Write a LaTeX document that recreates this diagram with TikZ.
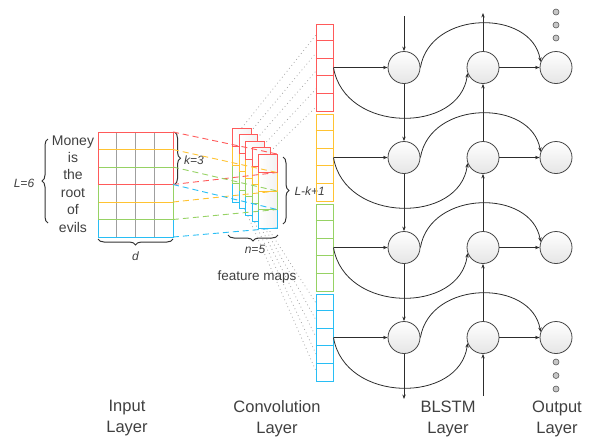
\documentclass[tikz,border=0pt]{standalone}
\usepackage{fontspec}
\setmainfont{Liberation Sans}
\usetikzlibrary{arrows.meta,decorations.pathreplacing,calc}
\definecolor{cred}{RGB}{255,90,90}
\definecolor{corange}{RGB}{255,195,50}
\definecolor{cgreen}{RGB}{150,210,100}
\definecolor{cblue}{RGB}{40,190,245}
\definecolor{txt}{RGB}{64,64,64}
\definecolor{ln}{RGB}{45,45,45}
\begin{document}
\begin{tikzpicture}[x=1pt,y=-1pt,
  arr/.style={draw=ln, line width=0.8pt, -{Stealth[length=4.5pt,width=3.4pt]}},
  unit/.style={circle, minimum size=32pt, inner sep=0pt, draw=gray!55!black, line width=0.8pt, top color=white, bottom color=gray!20},
  dotc/.style={circle, minimum size=6pt, inner sep=0pt, draw=gray!70!black, fill=gray!45, line width=0.6pt},
  gridc/.style={draw=gray!75, line width=0.6pt},
  win/.style={line width=1pt},
  cgroup/.style={rectangle, minimum width=17pt, minimum height=87pt, inner sep=0pt, line width=1pt},
  fmap/.style={rectangle, anchor=north west, minimum width=18.5pt, minimum height=74pt, inner sep=0pt, left color=white, right color=gray!10},
  dsh/.style={line width=0.9pt, dash pattern=on 6pt off 4pt},
  dtt/.style={draw=gray!70, line width=0.8pt, dash pattern=on 0.8pt off 3pt},
  brc/.style={decorate, decoration={brace, amplitude=6pt}, line width=1pt, draw=black!80},
  word/.style={text=txt, font=\fontsize{14}{16}\selectfont, anchor=base},
  lab/.style={text=txt, font=\fontsize{12}{14}\selectfont\itshape},
  layer/.style={text=txt, font=\fontsize{16.5}{21}\selectfont, align=center}
]
\useasboundingbox (0,0) rectangle (596,437);

% ---------- input layer ----------
\foreach \i in {0,...,6} \draw[gridc] (98,132+17.5*\i) -- (173,132+17.5*\i);
\foreach \j in {0,...,4} \draw[gridc] (98+18.75*\j,132) -- (98+18.75*\j,237);
\draw[win, cblue]   (98,184.5) rectangle (173,237);
\draw[win, corange] (98,149.5) rectangle (173,202);
\draw[win, cgreen]  (98,167) rectangle (173,219.5);
\draw[win, cred]    (98,132) rectangle (173,184.5);

\foreach \w [count=\k from 0] in {Money,is,the,root,of,evils}
  \node[word] (w\k) at (73,145+17.4*\k) {\w};

\draw[brc] (48,223) -- (48,139);
\node[lab] (L6) at (24,183) {L=6};
\draw[brc] (174.5,132) -- (174.5,184.5);
\node[lab] (k3) at (194,160) {k=3};
\draw[brc] (173,239) -- (98,239);
\node[lab] (dl) at (135.5,256) {d};

% ---------- dotted links (maps -> column) ----------
\foreach \i in {0,...,4} {
  \coordinate (mt\i) at (241.75+6.5*\i,128+6.5*\i);
  \coordinate (mb\i) at (241.75+6.5*\i,202+6.5*\i);
  \coordinate (ct\i) at (316,35+18*\i);
  \coordinate (cb\i) at (316,371-17*\i);
  \draw[dtt] (mt\i) -- (ct\i);
  \draw[dtt] (mb\i) -- (cb\i);
}

% ---------- feature maps ----------
\foreach \i in {0,...,4} {
  \node[fmap] (m\i) at (232.5+6.5*\i,128+6.5*\i) {};
  \draw[win, cblue]   ($(m\i.north west)+(0,55.5)$) rectangle ($(m\i.north west)+(18.5,74)$);
  \draw[win, cgreen]  ($(m\i.north west)+(0,37)$) rectangle ($(m\i.north west)+(18.5,55.5)$);
  \draw[win, corange] ($(m\i.north west)+(0,18.5)$) rectangle ($(m\i.north west)+(18.5,37)$);
  \draw[win, cred]    (m\i.north west) rectangle ($(m\i.north west)+(18.5,18.5)$);
}

% ---------- dashed windows -> maps ----------
\draw[dsh, cred]    (173,132) -- (277,154);
\draw[dsh, cred]    (173,184.5) -- (277,172.5);
\draw[dsh, corange] (173,149.5) -- (277,172.5);
\draw[dsh, corange] (173,202) -- (277,191);
\draw[dsh, cgreen]  (173,167) -- (277,191);
\draw[dsh, cgreen]  (173,219.5) -- (277,209.5);
\draw[dsh, cblue]   (173,184.5) -- (277,209.5);
\draw[dsh, cblue]   (173,237) -- (277,228);

\draw[brc] (283,157) -- (283,224);
\node[lab, anchor=west] (lk1) at (291,191) {L-k+1};
\draw[brc] (278,235) -- (228,235);
\node[lab] (n5) at (255,249) {n=5};
\node[text=txt, font=\fontsize{13.5}{16}\selectfont] (fm) at (257,277) {feature maps};

% ---------- column of features ----------
\foreach \g/\c in {0/cred,1/corange,2/cgreen,3/cblue} {
  \node[cgroup, draw=\c] (col\g) at (324.5,67.5+90*\g) {};
  \foreach \k in {1,...,4}
    \draw[\c, line width=1pt] ($(col\g.north west)+(0,17.4*\k)$) -- ($(col\g.north east)+(0,17.4*\k)$);
}

% ---------- BLSTM + output ----------
\foreach \r in {0,...,3} {
  \node[unit] (a\r) at (404,67.5+90*\r) {};
  \node[unit] (b\r) at (483,67.5+90*\r) {};
  \node[unit] (o\r) at (556,67.5+90*\r) {};
}
\coordinate (topin) at (404,16);
\coordinate (botout) at (404,399);
\coordinate (botin) at (483,396);
\coordinate (topout) at (483,13);

\draw[arr] (topin) -- (a0.north);
\draw[arr] (a0.south) -- (a1.north);
\draw[arr] (a1.south) -- (a2.north);
\draw[arr] (a2.south) -- (a3.north);
\draw[arr] (a3.south) -- (botout);
\draw[arr] (botin) -- (b3.south);
\draw[arr] (b3.north) -- (b2.south);
\draw[arr] (b2.north) -- (b1.south);
\draw[arr] (b1.north) -- (b0.south);
\draw[arr] (b0.north) -- (topout);

\foreach \r in {0,...,3} {
  \draw[arr] (col\r.east) -- (a\r.west);
  \draw[arr] (b\r.east) -- (o\r.west);
  \draw[arr] (a\r.east) .. controls +(10,-58) and +(-9,-53) .. (o\r.160);
  \draw[arr] (col\r.east) .. controls +(11,66) and +(-8,61) .. (b\r.200);
}

\foreach \k in {0,1,2} {
  \node[dotc] (ut\k) at (556,12+13*\k) {};
  \node[dotc] (ub\k) at (556,362+13.5*\k) {};
}

% ---------- layer labels ----------
\node[layer] (li) at (127,418.5) {Input\\Layer};
\node[layer] (lc) at (277,418.5) {Convolution\\Layer};
\node[layer] (lb) at (448,418.5) {BLSTM\\Layer};
\node[layer] (lo) at (557,418.5) {Output\\Layer};
\end{tikzpicture}
\end{document}
